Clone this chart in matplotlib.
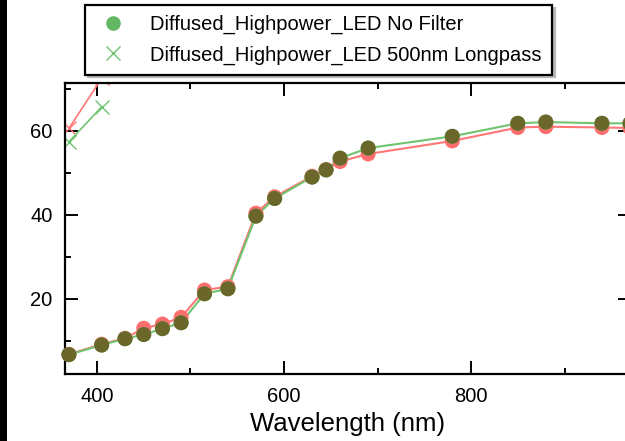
import matplotlib
matplotlib.use('Agg')
import matplotlib.pyplot as plt
import matplotlib.transforms as mtransforms
from matplotlib.patches import Circle, Rectangle
from matplotlib.lines import Line2D

plt.rcParams['font.family'] = ['Liberation Sans', 'DejaVu Sans']

# wavelengths (nm) of the measured LEDs
wavelength = [370, 405, 430, 450, 470, 490, 515, 540, 570, 590,
              630, 645, 660, 690, 780, 850, 880, 940, 970]
no_filter = [6.7, 9.0, 10.5, 11.5, 12.9, 14.3, 21.2, 22.4, 39.7, 43.9,
             49.0, 50.7, 53.5, 55.9, 58.7, 61.8, 62.1, 61.8, 61.8]
red_run = [6.8, 9.2, 10.6, 13.0, 14.0, 15.6, 22.1, 22.9, 40.4, 44.3,
           49.2, 50.8, 52.7, 54.5, 57.6, 60.8, 61.0, 60.8, 60.7]
# runs that only show up at the short wavelengths
longpass_wl = [370, 405]
longpass = [57.4, 65.7]
red_cross = [60.6, 72.5]

GREEN = '#62b862'
RED = '#ff6e6e'
OLIVE = '#6b672a'
GREEN_LINE = '#70c470'
RED_LINE = '#ff7676'

fig = plt.figure(figsize=(6.25, 4.41), dpi=100)
ax = fig.add_axes([65 / 625, 1 - 374 / 441, (631 - 65) / 625, (374 - 83) / 441])
ax.set_xlim(365.8, 971.1)
ax.set_ylim(2.1, 71.4)

ax.plot(wavelength, red_run, color=RED_LINE, lw=1.5, zorder=2, clip_on=False)
ax.plot(wavelength, no_filter, color=GREEN_LINE, lw=1.5, zorder=2, clip_on=False)
ax.plot(longpass_wl, red_cross, color=RED_LINE, lw=1.2, marker='x', ms=10, mew=1, zorder=2)
ax.plot(longpass_wl, longpass, color=GREEN_LINE, lw=1.2, marker='x', ms=10, mew=1, zorder=2)


def dot(x, y, color, z):
    tr = mtransforms.Affine2D().scale(7.5) + mtransforms.ScaledTranslation(x, y, ax.transData)
    c = Circle((0, 0), 1, transform=tr, facecolor=color, edgecolor='none', zorder=z, clip_on=False)
    ax.add_patch(c)
    return c


# red and green dots, where they overlap the colour goes olive
for x, g, r in zip(wavelength, no_filter, red_run):
    rc = dot(x, r, RED, 3)
    dot(x, g, GREEN, 4)
    ov = dot(x, g, OLIVE, 5)
    ov.set_clip_path(rc)

for s in ax.spines.values():
    s.set_linewidth(1.6)
ax.set_xticks([400, 600, 800])
ax.set_xticks([500, 700, 900], minor=True)
ax.set_yticks([20, 40, 60])
ax.set_yticks([10, 30, 50, 70], minor=True)
ax.tick_params(which='both', direction='in', top=True, right=True, width=1.4,
               labelsize=14.5, pad=9)
ax.tick_params(which='major', length=9.5)
ax.tick_params(which='minor', length=4.5)
ax.set_xlabel('Wavelength (nm)', fontsize=18.5, labelpad=5)

handles = [Line2D([], [], ls='none', marker='o', ms=10.5, color=GREEN, mec='none'),
           Line2D([], [], ls='none', marker='x', ms=10, mew=1, color=GREEN_LINE)]
labels = ['Diffused_Highpower_LED No Filter', 'Diffused_Highpower_LED 500nm Longpass']
leg = fig.legend(handles, labels, loc='upper left', bbox_to_anchor=(85 / 625, 1 - 5 / 441),
                 fontsize=14.5, frameon=True, fancybox=False, shadow={'color': '#b8b8b8', 'alpha': 1},
                 framealpha=1, edgecolor='black', borderaxespad=0, borderpad=0.5,
                 handlelength=1.8, handletextpad=0.95, labelspacing=0.55)
leg.get_frame().set_linewidth(1.6)

fig.patches.append(Rectangle((0, 0), 7 / 625, 1, transform=fig.transFigure,
                             facecolor='black', edgecolor='none'))

fig.savefig('out.png', dpi=100)
